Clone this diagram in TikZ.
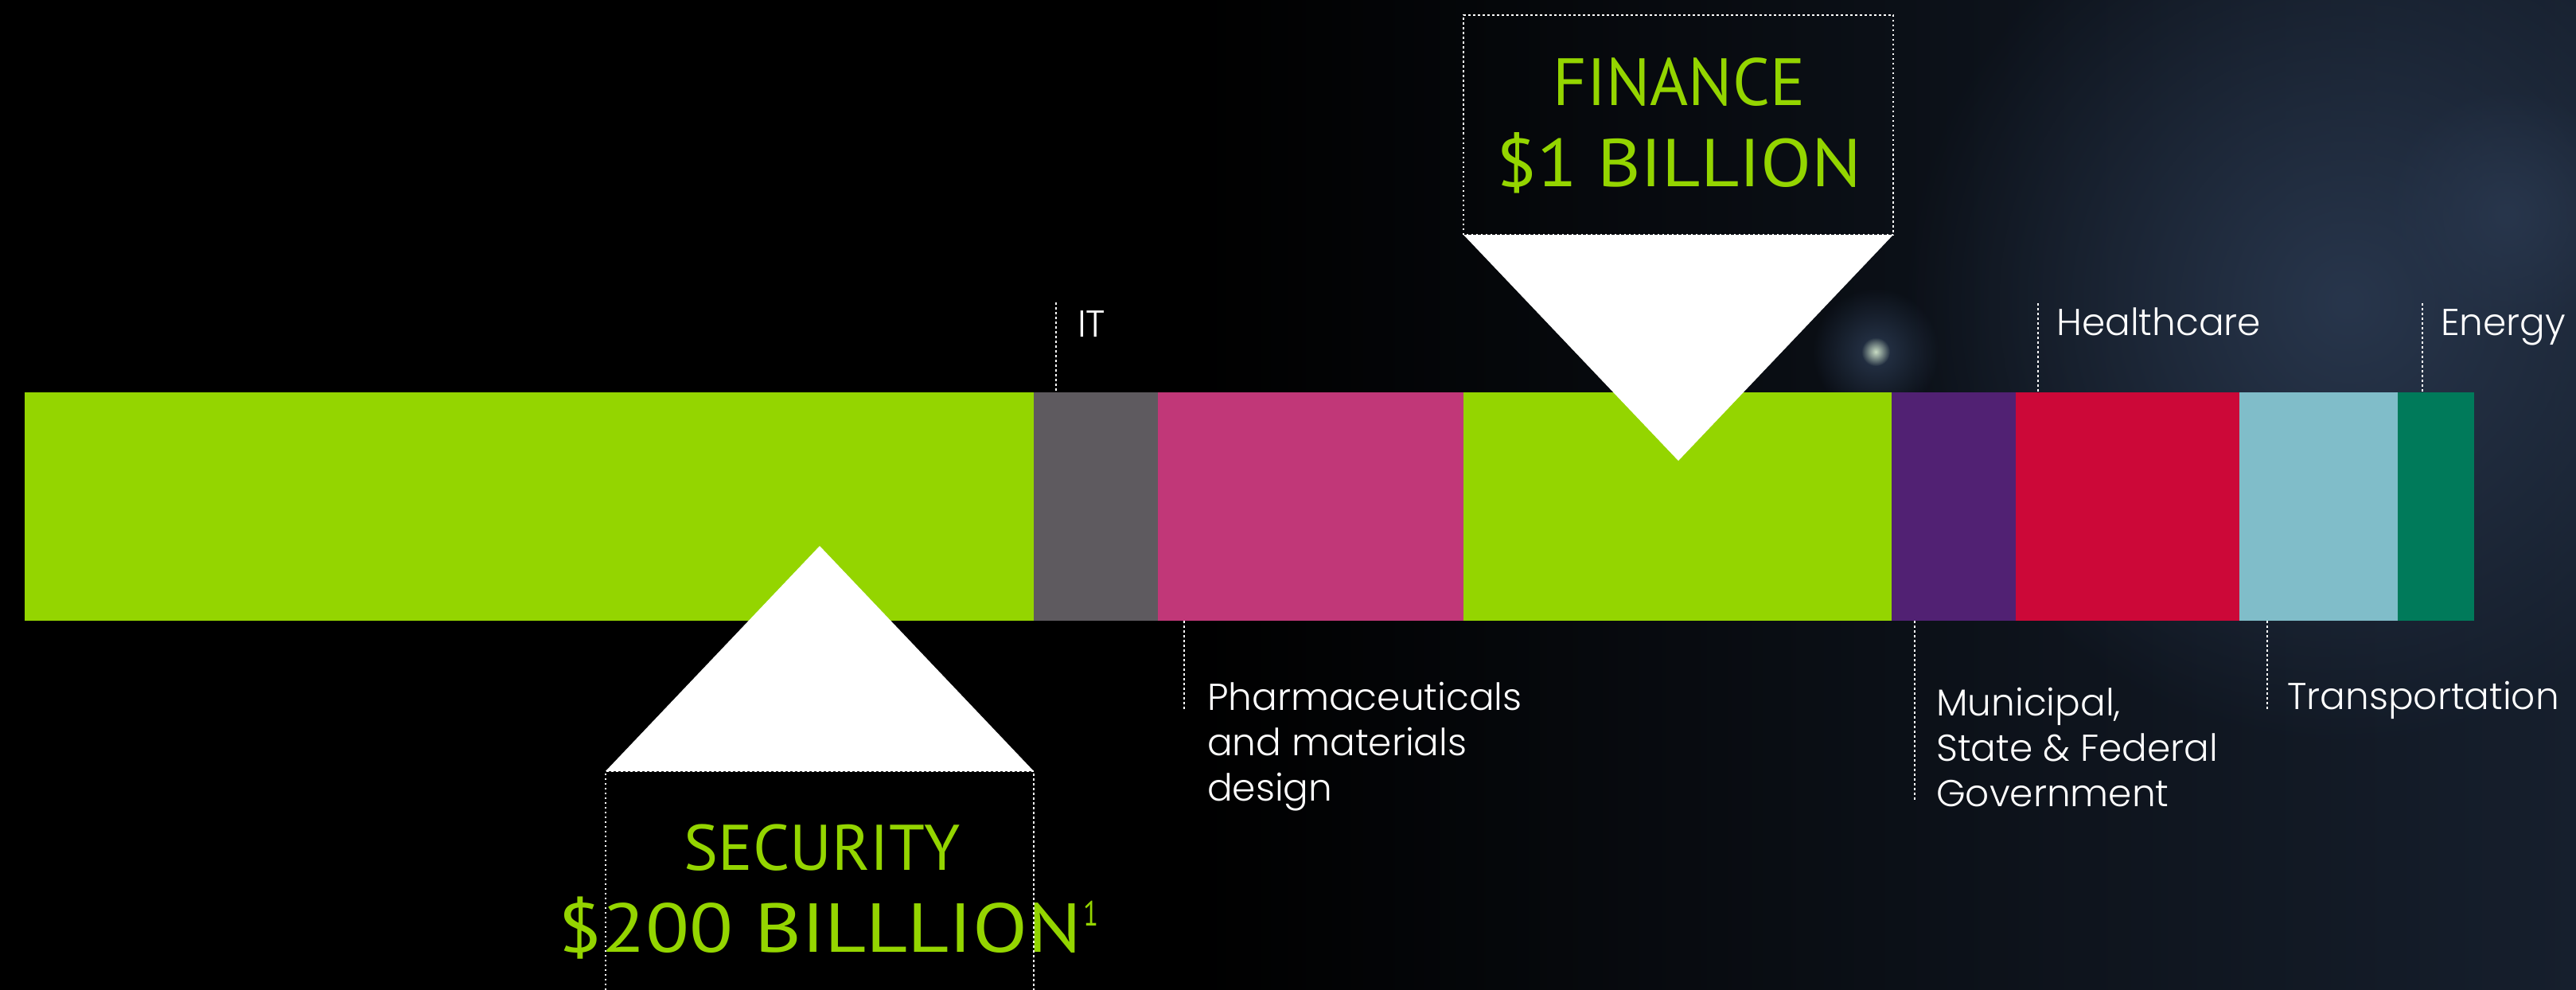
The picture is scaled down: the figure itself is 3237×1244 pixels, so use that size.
\documentclass[tikz,border=0pt]{standalone}
\usepackage{fontspec}
\usepackage{graphicx}
\usetikzlibrary{fadings}
\newfontfamily\bigfont{PT Sans}
\newfontfamily\labfont{Poppins Light}
\definecolor{nvgreen}{RGB}{148,213,0}
\definecolor{itgray}{RGB}{94,90,95}
\definecolor{pharmapink}{RGB}{193,55,120}
\definecolor{govpurple}{RGB}{81,33,115}
\definecolor{healthred}{RGB}{204,8,56}
\definecolor{transblue}{RGB}{128,189,201}
\definecolor{energyteal}{RGB}{0,122,90}
\definecolor{bgnavy}{RGB}{22,31,45}
\definecolor{glownavy}{RGB}{40,54,76}
\definecolor{starcore}{RGB}{200,220,195}
\tikzfading[name=glowfade, inner color=transparent!0, outer color=transparent!100]
\tikzset{
  seg/.style={rectangle, inner sep=0pt, outer sep=0pt, minimum height=287pt, anchor=north west, fill=#1},
  leader/.style={white, line width=2.5pt, dash pattern=on 2.5pt off 3.5pt},
  lab/.style={text=white, inner sep=0pt, anchor=base west, align=left, font=\labfont\fontsize{47}{57}\selectfont},
  big/.style={text=nvgreen, inner sep=0pt, anchor=base}
}
\begin{document}
\begin{tikzpicture}[x=1pt,y=-1pt]
\useasboundingbox (0,0) rectangle (3237,1244);
% background
\fill[black] (0,0) rectangle (3237,1244);
\shade[left color=black, right color=bgnavy, shading angle=90] (1500,0) rectangle (3237,1244);
\fill[glownavy, path fading=glowfade] (2950,380) circle (560pt);
\fill[glownavy, path fading=glowfade] (3150,270) circle (160pt);
\fill[glownavy, path fading=glowfade] (2357,442) circle (80pt);
\fill[starcore, path fading=glowfade] (2357,442) circle (18pt);

% bar segments
\node[seg=nvgreen, minimum width=1268pt] (security) at (31,493) {};
\node[seg=itgray, minimum width=156pt] (it) at (1299,493) {};
\node[seg=pharmapink, minimum width=384pt] (pharma) at (1455,493) {};
\node[seg=nvgreen, minimum width=538pt] (finance) at (1839,493) {};
\node[seg=govpurple, minimum width=156pt] (gov) at (2377,493) {};
\node[seg=healthred, minimum width=281pt] (health) at (2533,493) {};
\node[seg=transblue, minimum width=199pt] (trans) at (2814,493) {};
\node[seg=energyteal, minimum width=96pt] (energy) at (3013,493) {};

% finance pointer
\fill[white] (1839,295) -- (2379,295) -- (2109,579) -- cycle;
\draw[leader] (1839,295) rectangle (2379,19);
\node[big, font=\bigfont\fontsize{84}{84}\selectfont] (fintitle) at (2110,132) {\scalebox{0.98}[1]{FINANCE}};
\node[big, font=\bigfont\fontsize{85}{85}\selectfont] (finvalue) at (2110,234) {\scalebox{1.1}[1]{\$1 BILLION}};

% security pointer
\fill[white] (761,969) -- (1299,969) -- (1030,686) -- cycle;
\node[big, font=\bigfont\fontsize{81}{81}\selectfont] (sectitle) at (1033,1093) {SECURITY};
\node[big, font=\bigfont\fontsize{87}{87}\selectfont, anchor=base west] (secvalue) at (701,1196) {\scalebox{1.16}[1]{\$200 BILLLION}\kern2pt\raisebox{33pt}{\fontsize{44}{44}\selectfont\scalebox{0.8}[1]{1}}};
\draw[leader] (761,1244) -- (761,969) -- (1299,969) -- (1299,1244);

% labels above
\coordinate (itTop) at (1327,380);
\draw[leader] (itTop) -- (itTop |- it.north);
\node[lab] (itlab) at (1354,423) {IT};
\coordinate (healthTop) at (2561,381);
\draw[leader] (healthTop) -- (healthTop |- health.north);
\node[lab] (healthlab) at (2584,421) {Healthcare};
\coordinate (energyTop) at (3044,381);
\draw[leader] (energyTop) -- (energyTop |- energy.north);
\node[lab] (energylab) at (3067,421) {Energy};

% labels below (base anchor = last line)
\coordinate (pharmaEnd) at (1488,891);
\draw[leader] (pharmaEnd |- pharma.south) -- (pharmaEnd);
\node[lab] (pharmalab) at (1517,1006) {Pharmaceuticals\\and materials\\design};
\coordinate (govEnd) at (2406,1006);
\draw[leader] (govEnd |- gov.south) -- (govEnd);
\node[lab] (govlab) at (2433,1013) {Municipal,\\State \& Federal\\Government};
\coordinate (transEnd) at (2849,892);
\draw[leader] (transEnd |- trans.south) -- (transEnd);
\node[lab] (translab) at (2874,891) {Transportation};
\end{tikzpicture}
\end{document}
